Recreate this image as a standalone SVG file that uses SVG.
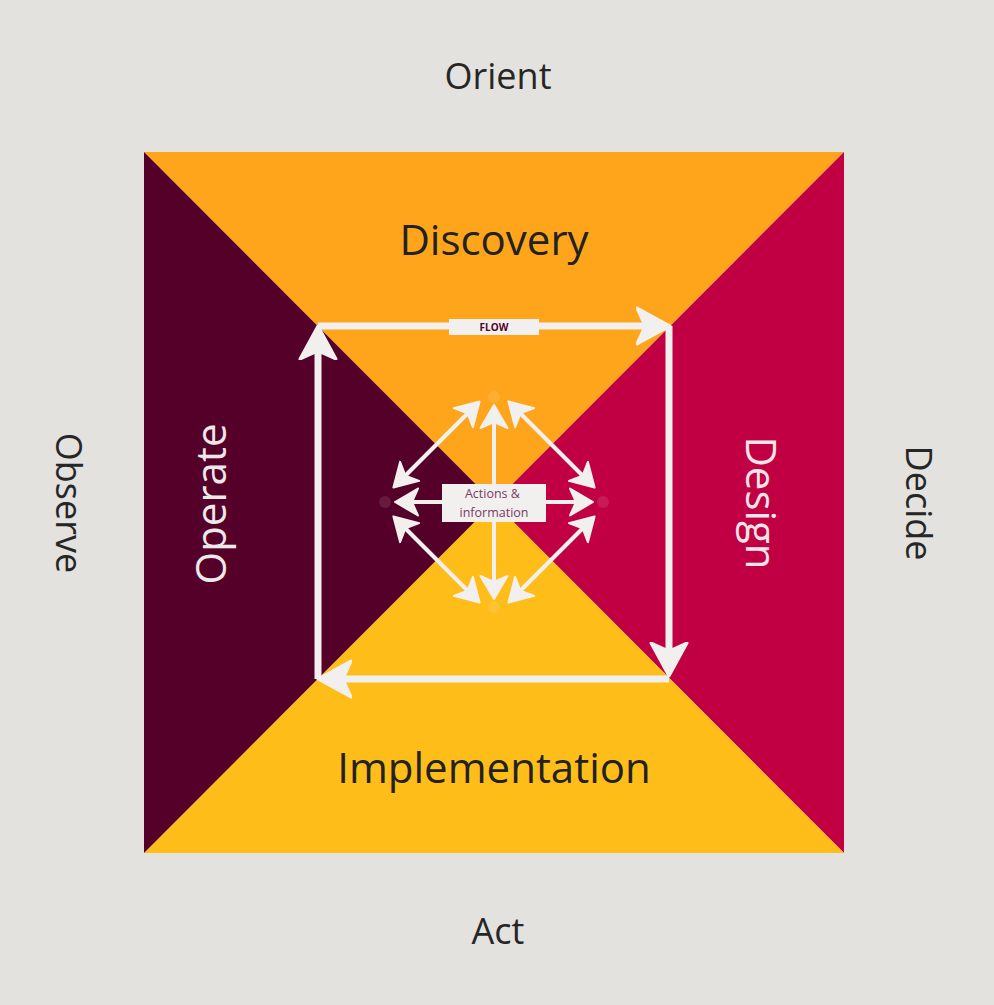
<svg xmlns="http://www.w3.org/2000/svg" width="994" height="1005" viewBox="0 0 994 1005">
  <style>
    .phase { font-family: "Open Sans", "Liberation Sans", sans-serif; font-size: 42px; text-anchor: middle; }
    .loop { font-family: "Open Sans", "Liberation Sans", sans-serif; font-size: 36px; fill: #262626; text-anchor: middle; }
    .flow-line { fill: none; stroke: #f1f0ee; stroke-width: 7; }
    .link-line { fill: none; stroke: #f1f0ee; stroke-width: 4; }
    .hub { fill: #ffffff; fill-opacity: 0.1; }
  </style>
  <defs>
    <marker id="flowHead" viewBox="0 -21 36 42" refX="12" refY="0" markerWidth="36" markerHeight="42" markerUnits="userSpaceOnUse" orient="auto">
      <path d="M34 0 L1 -18 L9 0 L1 18 Z" fill="#f1f0ee" stroke="#f1f0ee" stroke-width="3" stroke-linejoin="round"/>
    </marker>
    <marker id="linkHead" viewBox="0 -16 26 32" refX="9" refY="0" markerWidth="26" markerHeight="32" markerUnits="userSpaceOnUse" orient="auto-start-reverse">
      <path d="M24 0 L1 -13.5 L7 0 L1 13.5 Z" fill="#f1f0ee" stroke="#f1f0ee" stroke-width="2" stroke-linejoin="round"/>
    </marker>
  </defs>

  <rect x="0" y="0" width="994" height="1005" fill="#e3e2df"/>

  <!-- four quadrants of the square -->
  <g id="discovery">
    <polygon points="144,152 844,152 494,502.5" fill="#fea51c"/>
    <text class="phase" x="494" y="255" fill="#222222">Discovery</text>
  </g>
  <g id="design">
    <polygon points="844,152 844,853 494,502.5" fill="#c10043"/>
    <text class="phase" transform="translate(760,503) rotate(90)" x="0" y="14" fill="#f3e4ea">Design</text>
  </g>
  <g id="implementation">
    <polygon points="144,853 844,853 494,502.5" fill="#ffbd1a"/>
    <text class="phase" x="494" y="783" fill="#222222">Implementation</text>
  </g>
  <g id="operate">
    <polygon points="144,152 144,853 494,502.5" fill="#550029"/>
    <text class="phase" transform="translate(212,504) rotate(-90)" x="0" y="14" fill="#ece8ea">Operate</text>
  </g>

  <!-- OODA labels around the square -->
  <g id="orient"><text class="loop" x="498" y="89">Orient</text></g>
  <g id="act"><text class="loop" x="498" y="944">Act</text></g>
  <g id="observe"><text class="loop" transform="translate(68,503) rotate(90)" x="0" y="12">Observe</text></g>
  <g id="decide"><text class="loop" transform="translate(918,503) rotate(90)" x="0" y="12">Decide</text></g>

  <!-- clockwise flow loop -->
  <g id="flow-connectors">
    <path class="flow-line" d="M318 326 L648 326" marker-end="url(#flowHead)"/>
    <path class="flow-line" d="M669 326 L669 654" marker-end="url(#flowHead)"/>
    <path class="flow-line" d="M669 679 L340 679" marker-end="url(#flowHead)"/>
    <path class="flow-line" d="M318 679 L318 348" marker-end="url(#flowHead)"/>
  </g>
  <g id="flow-label">
    <rect x="449" y="319" width="90" height="16" fill="#f1f0ee"/>
    <text x="494" y="331" font-family="'Open Sans', 'Liberation Sans', sans-serif" font-size="10" font-weight="bold" fill="#550029" text-anchor="middle">FLOW</text>
  </g>

  <!-- central hubs -->
  <g id="hubs">
    <circle class="hub" cx="494" cy="397" r="6"/>
    <circle class="hub" cx="385" cy="502" r="6"/>
    <circle class="hub" cx="603" cy="502" r="6"/>
    <circle class="hub" cx="494" cy="607" r="6"/>
  </g>

  <!-- two-way exchanges between the phases -->
  <g id="exchange-connectors">
    <path class="link-line" d="M494 420 L494 584" marker-start="url(#linkHead)" marker-end="url(#linkHead)"/>
    <path class="link-line" d="M410 502 L578 502" marker-start="url(#linkHead)" marker-end="url(#linkHead)"/>
    <path class="link-line" d="M469 412 L404 477" marker-start="url(#linkHead)" marker-end="url(#linkHead)"/>
    <path class="link-line" d="M519 412 L584 477" marker-start="url(#linkHead)" marker-end="url(#linkHead)"/>
    <path class="link-line" d="M404 527 L469 592" marker-start="url(#linkHead)" marker-end="url(#linkHead)"/>
    <path class="link-line" d="M584 527 L519 592" marker-start="url(#linkHead)" marker-end="url(#linkHead)"/>
  </g>

  <g id="actions-information">
    <rect x="442" y="484" width="104" height="38" fill="#f1f0ee"/>
    <text font-family="'Open Sans', 'Liberation Sans', sans-serif" font-size="12.5" fill="#7a3a63" text-anchor="middle">
      <tspan x="494" y="498">Actions &amp;</tspan>
      <tspan x="494" y="517">information</tspan>
    </text>
  </g>
</svg>
